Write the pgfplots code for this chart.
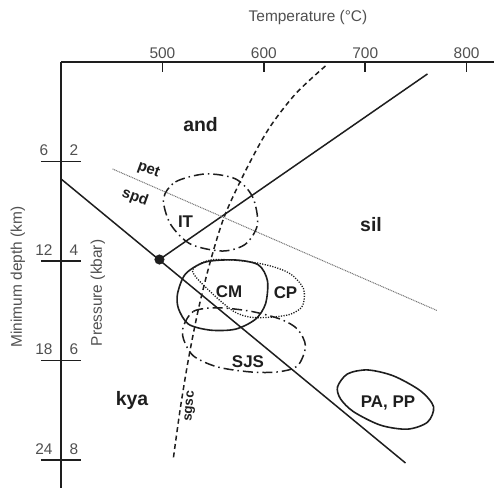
\documentclass[border=0pt]{standalone}
\usepackage{pgfplots}
\pgfplotsset{compat=1.18}
\usepackage{fontspec}
\setmainfont{Liberation Sans}
\definecolor{ink}{HTML}{1E1E1E}
\definecolor{ticktxt}{HTML}{505050}
\pgfplotsset{
  base/.style={scale only axis, width=433bp, height=426bp,
    xmin=400, xmax=827, ymin=0, ymax=8.563, y dir=reverse,
    at={(0,0)}, anchor=south west,
    /pgf/number format/assume math mode=true},
}
\tikzset{
  dep/.style={text=ticktxt, font=\fontsize{15.5}{18}\selectfont, xshift=-17bp, yshift=11bp},
  prs/.style={text=ticktxt, font=\fontsize{15.5}{18}\selectfont, xshift=13bp, yshift=11bp},
}
\begin{document}
\begin{tikzpicture}
\path[use as bounding box] (-61bp,0) rectangle (433bp,488bp);
% ---------- y axis (pressure / depth) ----------
\begin{axis}[base,
  axis x line=none, axis y line*=left,
  ytick={2,4,6,8}, yticklabels={},
  ytick align=center, major tick length=40bp,
  y axis line style={-, line width=1.8bp, ink},
  every tick/.style={ink, line width=1.6bp},
]
\addplot[draw=none] coordinates {(450,1)};
\end{axis}
% ---------- main axis ----------
\begin{axis}[base, clip=false,
  axis x line*=top, axis y line=none,
  xtick={500,600,700,800}, xtick align=inside, major tick length=10bp,
  x axis line style={-, line width=1.8bp, ink},
  every tick/.style={ink, line width=1.6bp},
  xticklabel style={text=ticktxt, font=\fontsize{15.5}{18}\selectfont},
  ytick=\empty,
]
% reaction lines
\addplot[ink, line width=1.5bp] coordinates {(400,2.35) (739.7,8.06)};
\addplot[ink, line width=1.5bp] coordinates {(497.1,3.97) (761.4,0.24)};
% pet / spd
\addplot[black!55, line width=1bp, dash pattern=on 1bp off 0.8bp] coordinates {(450.8,2.15) (771.3,5.0)};
% sgsc
\addplot[ink, line width=1.5bp, dash pattern=on 5bp off 3.5bp, smooth] coordinates {
(660.8,0.08) (631.3,0.64) (604.6,1.35) (581.9,2.19) (561.2,3.10)
(547.4,4.00) (535.6,4.96) (525.7,5.97) (517.6,6.97) (510.7,7.98)};
% triple point
\addplot[only marks, mark=*, mark size=4.8bp, ink] coordinates {(497.1,3.97)};
% IT
\addplot[ink, line width=1.5bp, dash pattern=on 10bp off 4bp on 1.5bp off 4bp, smooth cycle] coordinates {
(501.1,2.75) (512.9,2.41) (542.5,2.25) (572.1,2.35) (588.9,2.71)
(593.8,3.26) (582.0,3.66) (559.3,3.80) (527.7,3.66) (508.0,3.26)};
% CM
\addplot[ink, line width=1.6bp, smooth cycle] coordinates {
(514.9,4.66) (522.8,4.26) (542.5,4.02) (572.1,3.98) (594.8,4.08) (603.6,4.40)
(601.7,4.86) (591.8,5.17) (572.1,5.37) (547.4,5.39) (525.7,5.27) (515.9,4.96)};
% CP
\addplot[ink, line width=1.3bp, dash pattern=on 1.2bp off 1.4bp, smooth cycle] coordinates {
(529.7,4.20) (547.4,3.98) (580.0,4.00) (606.6,4.10) (626.3,4.26) (639.2,4.56)
(638.2,4.90) (626.3,5.07) (606.6,5.13) (586.9,5.13) (570.1,5.01) (547.4,4.62)};
% SJS
\addplot[ink, line width=1.5bp, dash pattern=on 10bp off 4bp on 1.5bp off 4bp, smooth cycle] coordinates {
(520.8,5.31) (530.7,5.01) (554.3,4.94) (586.9,5.01) (616.5,5.17) (633.2,5.37)
(641.1,5.71) (633.2,6.11) (613.5,6.23) (586.9,6.23) (554.3,6.13) (530.7,5.91) (520.8,5.57)};
% PA, PP
\addplot[ink, line width=1.6bp, smooth cycle] coordinates {
(672.7,6.53) (682.5,6.27) (702.3,6.19) (727.9,6.31) (754.5,6.61) (767.4,6.93)
(761.4,7.24) (741.7,7.38) (715.1,7.30) (688.5,7.03) (675.6,6.77)};
% region labels
\node[text=ink, font=\fontsize{19.5}{22}\selectfont\bfseries] at (axis cs:537.6,1.25) {and};
\node[text=ink, font=\fontsize{19.5}{22}\selectfont\bfseries] at (axis cs:705.7,3.26) {sil};
\node[text=ink, font=\fontsize{19.5}{22}\selectfont\bfseries] at (axis cs:470.0,6.80) {kya};
\node[text=ink, font=\fontsize{17}{20}\selectfont\bfseries] at (axis cs:522.8,3.20) {IT};
\node[text=ink, font=\fontsize{17}{20}\selectfont\bfseries] at (axis cs:565.7,4.61) {CM};
\node[text=ink, font=\fontsize{17}{20}\selectfont\bfseries] at (axis cs:621.4,4.63) {CP};
\node[text=ink, font=\fontsize{17}{20}\selectfont\bfseries] at (axis cs:584.4,6.02) {SJS};
\node[text=ink, font=\fontsize{17}{20}\selectfont\bfseries] at (axis cs:722.5,6.85) {PA, PP};
\node[text=ink, font=\fontsize{15}{17}\selectfont\bfseries, rotate=-20, inner sep=0pt] at (axis cs:486.3,2.17) {pet};
\node[text=ink, font=\fontsize{15}{17}\selectfont\bfseries, rotate=-20, inner sep=0pt] at (axis cs:473.0,2.72) {spd};
\node[text=ink, font=\fontsize{13.5}{15}\selectfont\bfseries, rotate=85] at (axis cs:527.7,6.92) {sgsc};
% y tick labels: depth (left) and pressure (right)
\node[dep] at (axis cs:400,2) {6};
\node[prs] at (axis cs:400,2) {2};
\node[dep] at (axis cs:400,4) {12};
\node[prs] at (axis cs:400,4) {4};
\node[dep] at (axis cs:400,6) {18};
\node[prs] at (axis cs:400,6) {6};
\node[dep] at (axis cs:400,8) {24};
\node[prs] at (axis cs:400,8) {8};
\end{axis}
% axis titles
\node[text=ticktxt, font=\fontsize{15.5}{18}\selectfont] at (247bp,470bp) {Temperature (°C)};
\node[text=ticktxt, font=\fontsize{15.5}{18}\selectfont, rotate=90] at (-43bp,211bp) {Minimum depth (km)};
\node[text=ticktxt, font=\fontsize{15.5}{18}\selectfont, rotate=90] at (37bp,195bp) {Pressure (kbar)};
\end{tikzpicture}
\end{document}
